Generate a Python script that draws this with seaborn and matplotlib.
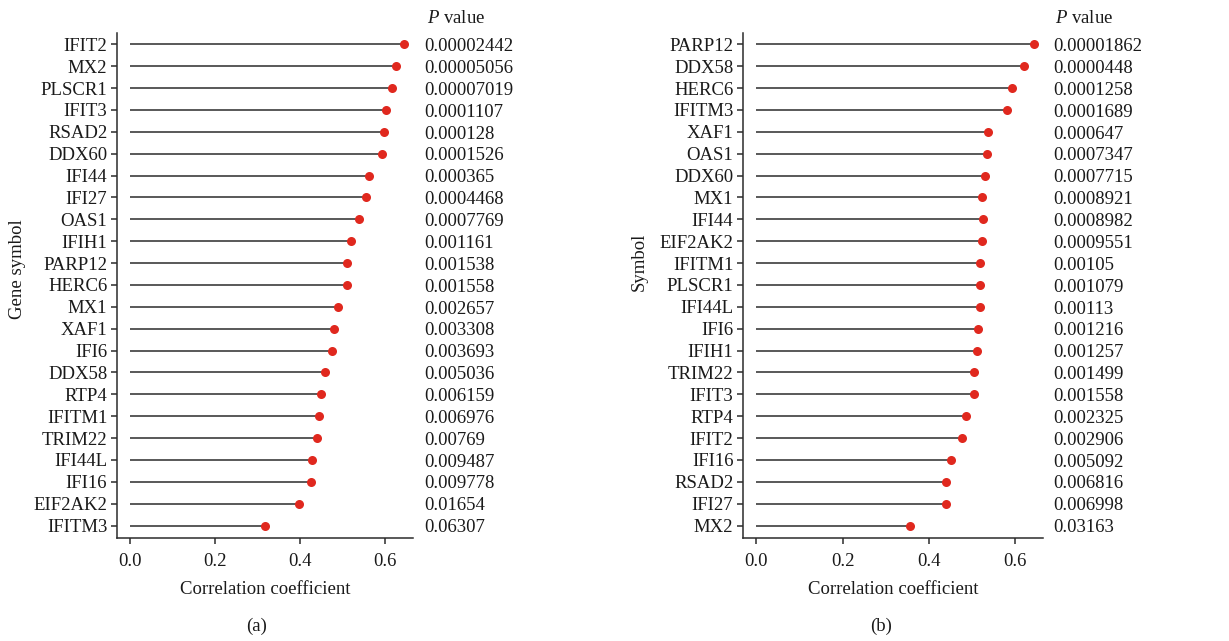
import numpy as np
import pandas as pd
import matplotlib
matplotlib.use('Agg')
import matplotlib.pyplot as plt
import matplotlib.transforms as mtransforms
import seaborn as sns

# панель (a)
genes_a = ['IFIT2', 'MX2', 'PLSCR1', 'IFIT3', 'RSAD2', 'DDX60', 'IFI44', 'IFI27',
           'OAS1', 'IFIH1', 'PARP12', 'HERC6', 'MX1', 'XAF1', 'IFI6', 'DDX58',
           'RTP4', 'IFITM1', 'TRIM22', 'IFI44L', 'IFI16', 'EIF2AK2', 'IFITM3']
corr_a = [0.643, 0.625, 0.616, 0.602, 0.598, 0.592, 0.562, 0.555, 0.537, 0.520,
          0.510, 0.509, 0.488, 0.479, 0.475, 0.459, 0.449, 0.444, 0.439, 0.427,
          0.426, 0.398, 0.318]
pval_a = ['0.00002442', '0.00005056', '0.00007019', '0.0001107', '0.000128',
          '0.0001526', '0.000365', '0.0004468', '0.0007769', '0.001161',
          '0.001538', '0.001558', '0.002657', '0.003308', '0.003693',
          '0.005036', '0.006159', '0.006976', '0.00769', '0.009487',
          '0.009778', '0.01654', '0.06307']

# панель (b)
genes_b = ['PARP12', 'DDX58', 'HERC6', 'IFITM3', 'XAF1', 'OAS1', 'DDX60', 'MX1',
           'IFI44', 'EIF2AK2', 'IFITM1', 'PLSCR1', 'IFI44L', 'IFI6', 'IFIH1',
           'TRIM22', 'IFIT3', 'RTP4', 'IFIT2', 'IFI16', 'RSAD2', 'IFI27', 'MX2']
corr_b = [0.643, 0.621, 0.593, 0.581, 0.538, 0.534, 0.530, 0.524, 0.525, 0.523,
          0.519, 0.518, 0.519, 0.513, 0.512, 0.505, 0.505, 0.486, 0.478, 0.452,
          0.439, 0.439, 0.357]
pval_b = ['0.00001862', '0.0000448', '0.0001258', '0.0001689', '0.000647',
          '0.0007347', '0.0007715', '0.0008921', '0.0008982', '0.0009551',
          '0.00105', '0.001079', '0.00113', '0.001216', '0.001257',
          '0.001499', '0.001558', '0.002325', '0.002906', '0.005092',
          '0.006816', '0.006998', '0.03163']

xticks = [0.0, 0.2, 0.4, 0.6]

sns.set_style('ticks')
plt.rcParams['font.family'] = ['Liberation Serif', 'DejaVu Serif']
plt.rcParams['mathtext.fontset'] = 'custom'
plt.rcParams['mathtext.rm'] = 'Liberation Serif'
plt.rcParams['mathtext.it'] = 'Liberation Serif:italic'

fig = plt.figure(figsize=(12.29, 6.41), dpi=100)
ax_a = fig.add_axes([0.0952, 0.1607, 0.2408, 0.7878])
ax_b = fig.add_axes([0.6046, 0.1607, 0.2441, 0.7878])

dark = '#2b2b2b'
red = '#e0281e'
txt = '#1a1a1a'
fs = 13.5


def lollipop(ax, genes, corr, pvals, ylab, lab_xy, ptx, hdrx):
    df = pd.DataFrame({'gene': genes, 'r': corr})
    # стебли - почти нулевые бары, видна только обводка
    sns.barplot(data=df, x='r', y='gene', order=genes, color=dark,
                width=0.001, edgecolor=dark, linewidth=1.1, saturation=1, ax=ax)
    sns.stripplot(data=df, x='r', y='gene', order=genes, jitter=False,
                  color=red, size=6.5, linewidth=0, ax=ax, zorder=3)
    n = len(genes)
    ax.set_ylim(n - 1 + 0.57, -0.52)
    ax.set_xlim(-0.031, 0.665)
    ax.set_xticks(xticks)
    ax.set_xticklabels([f'{t:.1f}' for t in xticks])
    sns.despine(ax=ax)
    for s in ['left', 'bottom']:
        ax.spines[s].set_color(dark)
        ax.spines[s].set_linewidth(1.1)
    ax.tick_params(axis='both', length=4, width=1.1, color=dark,
                   labelsize=fs, labelcolor=txt, pad=3)
    ax.tick_params(axis='x', pad=7)
    ax.set_xlabel('Correlation coefficient', fontsize=fs, labelpad=8, color=txt)
    ax.set_ylabel(ylab, fontsize=fs, color=txt)
    ax.yaxis.set_label_coords(*lab_xy)
    trans = mtransforms.blended_transform_factory(ax.transAxes, ax.transData)
    for i, p in enumerate(pvals):
        ax.text(ptx, i + 0.1, p, transform=trans, ha='left', va='center',
                fontsize=fs, color=txt)
    ax.text(hdrx, 1.028, '$P$ value', transform=ax.transAxes, ha='center',
            va='center', fontsize=fs, color=txt)


lollipop(ax_a, genes_a, corr_a, pval_a, 'Gene symbol', (-0.307, 0.533), 1.037, 1.145)
lollipop(ax_b, genes_b, corr_b, pval_b, 'Symbol', (-0.317, 0.547), 1.033, 1.137)

fig.text(257 / 1229, 1 - 626 / 641, '(a)', ha='center', va='center', fontsize=fs, color=txt)
fig.text(881 / 1229, 1 - 626 / 641, '(b)', ha='center', va='center', fontsize=fs, color=txt)

fig.savefig('out.png', dpi=100)
